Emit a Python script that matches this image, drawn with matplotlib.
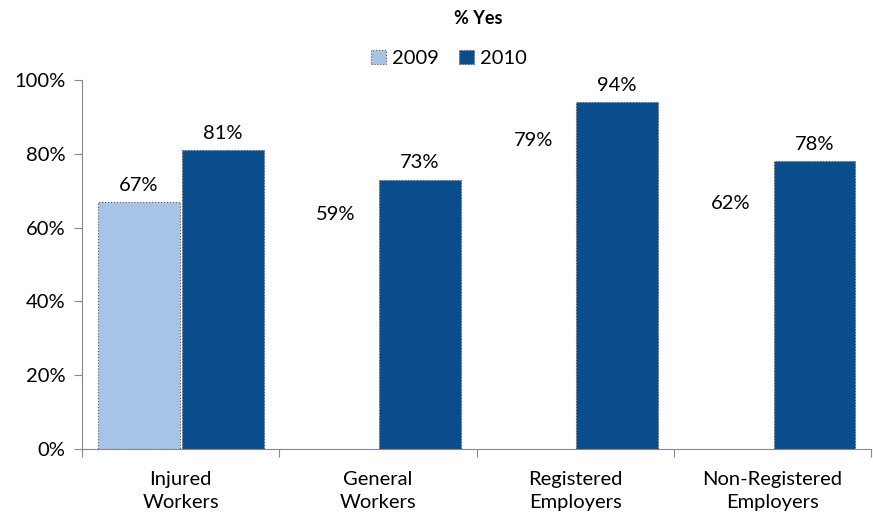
import numpy as np
import matplotlib.pyplot as plt

categories = ['Injured\nWorkers', 'General\nWorkers', 'Registered\nEmployers', 'Non-Registered\nEmployers']
yes_2009 = [67, 59, 79, 62]
yes_2010 = [81, 73, 94, 78]
# only the first 2009 bar is filled in
show_2009 = [True, False, False, False]

plt.rcParams['font.family'] = ['Lato', 'DejaVu Sans']
fs = 14.5

fig = plt.figure(figsize=(8.73, 5.16), dpi=100)
ax = fig.add_axes([0.094, 0.130, 0.904, 0.715])

x = np.arange(len(categories))
w = 0.415
c09 = '#A7C4E6'
c10 = '#0A4D8C'

for i in range(len(categories)):
    fc = c09 if show_2009[i] else 'none'
    ec = '#555555' if show_2009[i] else 'none'
    ax.bar(x[i] - w / 2 - 0.005, yes_2009[i], w, color=fc, edgecolor=ec,
           linestyle=':', linewidth=0.8, label='2009' if i == 0 else None)
    ax.text(x[i] - w / 2 - 0.005, yes_2009[i] + 2.2, f'{yes_2009[i]}%',
            ha='center', va='bottom', fontsize=fs)
ax.bar(x + w / 2 + 0.005, yes_2010, w, color=c10, edgecolor='#555555',
       linestyle=':', linewidth=0.8, label='2010')
for i, v in enumerate(yes_2010):
    ax.text(x[i] + w / 2 + 0.005, v + 2.2, f'{v}%', ha='center', va='bottom', fontsize=fs)

ax.set_xlim(-0.5, len(categories) - 0.5)
ax.set_ylim(0, 100)
ax.set_yticks(range(0, 101, 20))
ax.set_yticklabels([f'{t}%' for t in range(0, 101, 20)], fontsize=fs)

# category boundaries get the tick marks, names sit in between
ax.set_xticks(np.arange(-0.5, len(categories), 1.0))
ax.set_xticklabels([])
ax.set_xticks(x, minor=True)
ax.set_xticklabels(categories, minor=True, fontsize=fs, linespacing=1.45)
ax.tick_params(axis='x', which='minor', length=0, pad=16)
ax.tick_params(axis='x', which='major', length=6, color='#888888')
ax.tick_params(axis='y', length=6, color='#888888', pad=6)

for s in ['top', 'right']:
    ax.spines[s].set_visible(False)
for s in ['left', 'bottom']:
    ax.spines[s].set_color('#888888')

fig.text(0.548, 0.965, '% Yes', ha='center', va='center', fontsize=13, fontweight='bold')
fig.legend(loc='center', bbox_to_anchor=(0.514, 0.887), ncol=2, frameon=False,
           fontsize=fs, handlelength=0.75, handleheight=0.75, handletextpad=0.3,
           columnspacing=1.0)

fig.savefig('out.png', dpi=100)
